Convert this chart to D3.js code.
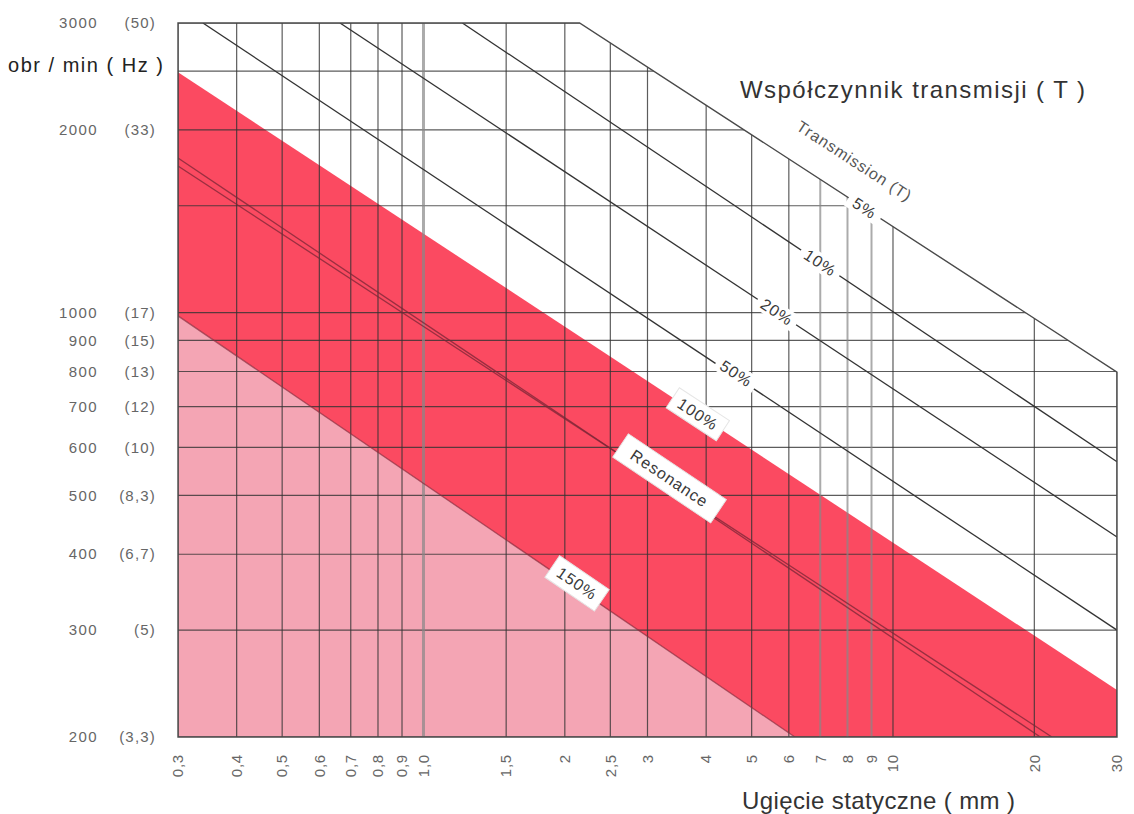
<!DOCTYPE html>
<html>
<head>
<meta charset="utf-8">
<script src="https://cdn.jsdelivr.net/npm/d3@7"></script>
<style>
    body { margin: 0; background: #fff; }
    text { font-family: "Liberation Sans", Arial, sans-serif; }
</style>
</head>
<body>
<svg id="chart" width="1134" height="814"></svg>
<script>
// Static deflection (mm) ticks on the x axis
const deflectionTicks = [0.3, 0.4, 0.5, 0.6, 0.7, 0.8, 0.9, 1.0, 1.5, 2, 2.5, 3, 4, 5, 6, 7, 8, 9, 10, 20, 30];
const deflectionLabels = ["0,3", "0,4", "0,5", "0,6", "0,7", "0,8", "0,9", "1,0", "1,5", "2", "2,5", "3", "4", "5", "6", "7", "8", "9", "10", "20", "30"];

// Speed ticks (rpm) and the matching Hz labels
const rpmTicks = [3000, 2000, 1000, 900, 800, 700, 600, 500, 400, 300, 200];
const hzLabels = ["(50)", "(33)", "(17)", "(15)", "(13)", "(12)", "(10)", "(8,3)", "(6,7)", "(5)", "(3,3)"];
const rpmGrid = [3000, 2500, 2000, 1500, 1000, 900, 800, 700, 600, 500, 400, 300, 200];

// Transmission lines, endpoints as [deflection mm, rpm]
const line5 = [[2.15, 3000], [30, 798]];
const line10 = [[1.21, 3000], [30, 568]];
const line20 = [[0.664, 3000], [30, 427]];
const line50 = [[0.339, 3000], [30, 300]];
const line100 = [[0.3, 2490], [30, 239]];
const resonanceA = [[0.3, 1798], [20.6, 200]];
const resonanceB = [[0.3, 1744], [21.8, 200]];
const line150 = [[0.3, 988], [6.18, 200]];

const svg = d3.select('#chart');

const x = d3.scaleLog().domain([0.3, 30]).range([178, 1117]);
const y = d3.scaleLog().domain([200, 3000]).range([737, 23]);

const toPx = (p) => [x(p[0]), y(p[1])];
const pathOf = d3.line().x(d => x(d[0])).y(d => y(d[1]));

// Grid area: cut at the top right by the 5% line
const boundary = [[0.3, 3000], line5[0], line5[1], [30, 200], [0.3, 200]];

svg.append('clipPath').attr('id', 'grid-clip')
    .append('path')
    .attr('d', pathOf(boundary) + 'Z');

// Bands
svg.append('path')
    .attr('d', pathOf([line150[0], line150[1], [0.3, 200]]) + 'Z')
    .style('fill', '#f4a5b4');

svg.append('path')
    .attr('d', pathOf([line100[0], line100[1], [30, 200], line150[1], line150[0]]) + 'Z')
    .style('fill', '#fb4a61');

const grid = svg.append('g').attr('clip-path', 'url(#grid-clip)');

// Horizontal grid
grid.selectAll('.hgrid')
    .data(rpmGrid)
    .enter().append('line')
    .attr('class', 'hgrid')
    .attr('x1', x(0.3)).attr('x2', x(30))
    .attr('y1', d => y(d)).attr('y2', d => y(d))
    .style('stroke', '#333')
    .style('stroke-opacity', 0.8)
    .style('stroke-width', 1.2);

// Vertical grid, a few lines drawn lighter and wider like in the print
const lightLines = [1.0, 7, 8, 9];
grid.selectAll('.vgrid')
    .data(deflectionTicks)
    .enter().append('line')
    .attr('class', 'vgrid')
    .attr('x1', d => x(d)).attr('x2', d => x(d))
    .attr('y1', y(3000)).attr('y2', y(200))
    .style('stroke', d => lightLines.includes(d) ? '#888' : '#333')
    .style('stroke-opacity', d => lightLines.includes(d) ? 0.7 : 0.8)
    .style('stroke-width', d => d === 1.0 ? 3 : (lightLines.includes(d) ? 2 : 1.2));

// Transmission lines
[line10, line20, line50].forEach((l) => {
    grid.append('path')
        .attr('d', pathOf(l))
        .style('fill', 'none')
        .style('stroke', '#333')
        .style('stroke-width', 1.3);
});

[resonanceA, resonanceB].forEach((l) => {
    grid.append('path')
        .attr('d', pathOf(l))
        .style('fill', 'none')
        .style('stroke', '#7a2535')
        .style('stroke-opacity', 0.75)
        .style('stroke-width', 1.3);
});

grid.append('path')
    .attr('d', pathOf(line150))
    .style('fill', 'none')
    .style('stroke', '#8a2a3c')
    .style('stroke-opacity', 0.7)
    .style('stroke-width', 1.3);

// Outline
svg.append('path')
    .attr('d', pathOf(boundary) + 'Z')
    .style('fill', 'none')
    .style('stroke', '#4a4a4a')
    .style('stroke-width', 1.4);

// Position along a line (straight in log-log) for a given deflection
function pointOn(l, d) {
    const a = toPx(l[0]);
    const b = toPx(l[1]);
    const t = (x(d) - a[0]) / (b[0] - a[0]);
    return [a[0] + t * (b[0] - a[0]), a[1] + t * (b[1] - a[1])];
}

function angleOf(l) {
    const a = toPx(l[0]);
    const b = toPx(l[1]);
    return Math.atan2(b[1] - a[1], b[0] - a[0]) * 180 / Math.PI;
}

const lineLabels = [
    {line: line5, at: 8.7, text: '5%', w: 38, h: 18, box: false, dy: 0},
    {line: line10, at: 7.0, text: '10%', w: 46, h: 18, box: false, dy: 0},
    {line: line20, at: 5.66, text: '20%', w: 46, h: 18, box: false, dy: 0},
    {line: line50, at: 4.6, text: '50%', w: 46, h: 18, box: false, dy: -3},
    {line: line100, at: 3.84, text: '100%', w: 60, h: 24, box: true, dy: 0},
    {line: resonanceA, at: 3.27, text: 'Resonance', w: 118, h: 28, box: true, dy: -8},
    {line: line150, at: 2.1, text: '150%', w: 60, h: 26, box: true, dy: -4}
];

const labelGroup = svg.selectAll('.line-label')
    .data(lineLabels)
    .enter().append('g')
    .attr('class', 'line-label')
    .attr('transform', (d) => {
        const p = pointOn(d.line, d.at);
        return `translate(${p[0]},${p[1]}) rotate(${angleOf(d.line)}) translate(0,${d.dy})`;
    });

labelGroup.append('rect')
    .attr('x', d => -d.w / 2).attr('y', d => -d.h / 2)
    .attr('width', d => d.w).attr('height', d => d.h)
    .style('fill', '#fff')
    .style('stroke', d => d.box ? '#e6e6e6' : 'none');

labelGroup.append('text')
    .attr('text-anchor', 'middle')
    .attr('dy', '0.35em')
    .style('font-size', '16px')
    .style('letter-spacing', '1px')
    .style('fill', '#3a3a3a')
    .text(d => d.text);

// Label above the 5% line
const tp = pointOn(line5, 7.56);
svg.append('text')
    .attr('transform', `translate(${tp[0]},${tp[1]}) rotate(${angleOf(line5)}) translate(0,-34)`)
    .attr('text-anchor', 'middle')
    .attr('dy', '0.35em')
    .style('font-size', '16px')
    .style('letter-spacing', '0.9px')
    .style('fill', '#555')
    .text('Transmission (T)');

// Y axis labels
svg.selectAll('.rpm-label')
    .data(rpmTicks)
    .enter().append('text')
    .attr('class', 'rpm-label')
    .attr('x', 98)
    .attr('y', d => y(d))
    .attr('dy', '0.35em')
    .attr('text-anchor', 'end')
    .style('font-size', '15px')
    .style('letter-spacing', '1.4px')
    .style('fill', '#666')
    .text(d => d);

svg.selectAll('.hz-label')
    .data(rpmTicks)
    .enter().append('text')
    .attr('class', 'hz-label')
    .attr('x', 156)
    .attr('y', d => y(d))
    .attr('dy', '0.35em')
    .attr('text-anchor', 'end')
    .style('font-size', '15px')
    .style('letter-spacing', '1.2px')
    .style('fill', '#666')
    .text((d, i) => hzLabels[i]);

svg.append('text')
    .attr('x', 8).attr('y', 65)
    .attr('dy', '0.35em')
    .attr('textLength', 155)
    .attr('lengthAdjust', 'spacing')
    .style('font-size', '20px')
    .style('fill', '#222')
    .text('obr / min ( Hz )');

// X axis labels, rotated
svg.selectAll('.x-label')
    .data(deflectionTicks)
    .enter().append('text')
    .attr('class', 'x-label')
    .attr('transform', d => `translate(${x(d)},754) rotate(-90)`)
    .attr('dy', '0.35em')
    .attr('text-anchor', 'end')
    .style('font-size', '15px')
    .style('letter-spacing', '0.8px')
    .style('fill', '#666')
    .text((d, i) => deflectionLabels[i]);

svg.append('text')
    .attr('x', 742).attr('y', 809)
    .attr('textLength', 273)
    .attr('lengthAdjust', 'spacing')
    .style('font-size', '24px')
    .style('fill', '#333')
    .text('Ugięcie statyczne ( mm )');

svg.append('text')
    .attr('x', 740).attr('y', 98)
    .attr('textLength', 345)
    .attr('lengthAdjust', 'spacing')
    .style('font-size', '24px')
    .style('fill', '#333')
    .text('Współczynnik transmisji ( T )');
</script>
</body>
</html>
